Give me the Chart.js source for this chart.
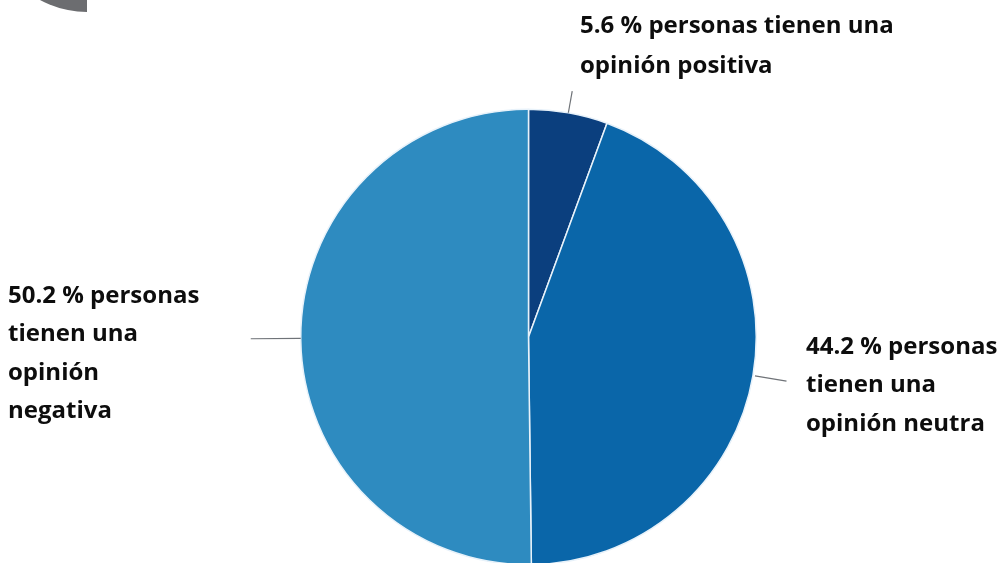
<!DOCTYPE html>
<html>
<head>
<meta charset="utf-8">
<script src="https://cdn.jsdelivr.net/npm/chart.js@4.4.1/dist/chart.umd.min.js"></script>
<style>
  html, body { margin: 0; padding: 0; background: #ffffff; overflow: hidden; }
  #wrap { position: relative; width: 1008px; height: 572px; }
</style>
</head>
<body>
<div id="wrap"><canvas id="chartOpinion"></canvas></div>
<script>
// Datos del gráfico
const categorias = ["Positiva", "Neutra", "Negativa"];
const porcentajes = [5.6, 44.2, 50.2];
const etiquetas = [
  ["5.6 % personas tienen una", "opinión positiva"],
  ["44.2 % personas", "tienen una", "opinión neutra"],
  ["50.2 % personas", "tienen una", "opinión", "negativa"],
];

const colores = ["#0b3f7e", "#0a66a9", "#2e8bc0"];

// Largo de las lineas guia y cajas de texto (solo estilo)
const guias = [
  { r0: 0, r1: 22 },
  { r0: 2, r1: 34 },
  { r0: 0, r1: 50 },
];
const cajas = [
  { x: 580, y: 26, lh: 40 },
  { x: 806, y: 347, lh: 38.5 },
  { x: 8, y: 296, lh: 38.5 },
];

// Plugin para dibujar lineas guia, etiquetas y el adorno gris
const etiquetasPlugin = {
  id: "etiquetasPlugin",
  beforeDraw(chart) {
    const ctx = chart.ctx;
    // adorno gris arriba a la izquierda
    ctx.save();
    ctx.beginPath();
    ctx.moveTo(87, -86);
    ctx.arc(87, -86, 98, Math.PI / 2, Math.PI, false);
    ctx.closePath();
    ctx.fillStyle = "#6c6d70";
    ctx.fill();
    ctx.restore();
  },
  afterDatasetsDraw(chart) {
    const ctx = chart.ctx;
    const arcs = chart.getDatasetMeta(0).data;
    ctx.save();
    arcs.forEach((arc, i) => {
      const mid = (arc.startAngle + arc.endAngle) / 2;
      const g = guias[i];
      const ra = arc.outerRadius + g.r0;
      const rb = arc.outerRadius + g.r1;
      ctx.beginPath();
      ctx.moveTo(arc.x + Math.cos(mid) * ra, arc.y + Math.sin(mid) * ra);
      ctx.lineTo(arc.x + Math.cos(mid) * rb, arc.y + Math.sin(mid) * rb);
      ctx.strokeStyle = "#6f7378";
      ctx.lineWidth = 1.2;
      ctx.stroke();
    });

    ctx.fillStyle = "#0d0d0d";
    ctx.font = "bold 24px 'Open Sans'";
    ctx.textAlign = "left";
    ctx.textBaseline = "middle";
    etiquetas.forEach((lineas, i) => {
      const c = cajas[i];
      lineas.forEach((t, k) => {
        ctx.fillText(t, c.x, c.y + k * c.lh);
      });
    });
    ctx.restore();
  },
};

const ctxOpinion = document.getElementById("chartOpinion");
new Chart(ctxOpinion.getContext("2d"), {
  type: "pie",
  data: {
    labels: categorias,
    datasets: [
      {
        data: porcentajes,
        backgroundColor: colores,
        borderColor: "#e8f2fa",
        borderWidth: 1.5,
      },
    ],
  },
  options: {
    responsive: true,
    maintainAspectRatio: false,
    animation: false,
    layout: { padding: { top: 108, bottom: 6, left: 300, right: 251 } },
    plugins: {
      legend: { display: false },
      tooltip: { enabled: false },
    },
  },
  plugins: [etiquetasPlugin],
});
</script>
</body>
</html>
